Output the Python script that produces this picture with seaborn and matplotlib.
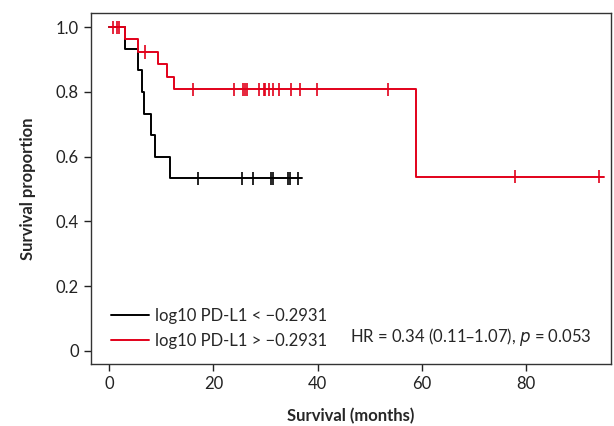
import numpy as np
import pandas as pd
import seaborn as sns
import matplotlib
matplotlib.use('Agg')
import matplotlib.pyplot as plt

sns.set_style('white')
plt.rcParams['font.family'] = ['Lato', 'DejaVu Sans']

# Kaplan-Meier step values
low_label = 'log10 PD-L1 < \u22120.2931'
high_label = 'log10 PD-L1 > \u22120.2931'

low_times = [0, 3.1, 5.5, 6.4, 6.6, 8.0, 8.75, 11.6, 37.1]
low_surv = [1.0, 0.933, 0.867, 0.800, 0.733, 0.667, 0.600, 0.533, 0.533]
low_censor = [17.0, 25.5, 27.6, 31.1, 31.5, 34.3, 34.7, 36.2]

high_times = [0, 3.1, 5.5, 9.4, 11.1, 12.4, 58.9, 95.0]
high_surv = [1.0, 0.962, 0.923, 0.885, 0.846, 0.808, 0.538, 0.538]
high_censor = [0.8, 1.5, 1.9, 6.8, 16.1, 23.9, 25.7, 26.1, 26.5, 28.8, 29.7, 30.0,
               30.7, 31.5, 32.6, 34.9, 36.7, 39.8, 53.5, 77.8, 94.1]

x_ticks = [0, 20, 40, 60, 80]
y_ticks = [0, 0.2, 0.4, 0.6, 0.8, 1.0]
y_tick_labels = ['0', '0.2', '0.4', '0.6', '0.8', '1.0']
hr_text = 'HR = 0.34 (0.11\u20131.07), $\\it{p}$ = 0.053'

colors = {low_label: 'black', high_label: '#e2001a'}


def censor_y(times, surv, censor):
    idx = np.searchsorted(times, censor, side='right') - 1
    return np.array(surv)[idx]


steps = pd.concat([
    pd.DataFrame({'time': low_times, 'surv': low_surv, 'group': low_label}),
    pd.DataFrame({'time': high_times, 'surv': high_surv, 'group': high_label}),
])
marks = pd.concat([
    pd.DataFrame({'time': low_censor, 'surv': censor_y(low_times, low_surv, low_censor),
                  'group': low_label}),
    pd.DataFrame({'time': high_censor, 'surv': censor_y(high_times, high_surv, high_censor),
                  'group': high_label}),
])

fig = plt.figure(figsize=(6.14, 4.26), dpi=100)
ax = fig.add_axes([0.148, 0.146, 0.847, 0.823])

sns.lineplot(data=steps, x='time', y='surv', hue='group', palette=colors,
             estimator=None, sort=False, drawstyle='steps-post', linewidth=1.4, ax=ax)
sns.scatterplot(data=marks, x='time', y='surv', hue='group', palette=colors,
                marker='|', s=90, linewidth=1.2, legend=False, ax=ax)

ax.set_xlim(-3.5, 96.3)
ax.set_ylim(-0.04, 1.043)
ax.set_xticks(x_ticks)
ax.set_yticks(y_ticks)
ax.set_yticklabels(y_tick_labels)
ax.tick_params(axis='both', direction='out', length=5, width=1, labelsize=12, colors='#222222',
               bottom=True, left=True)
for s in ax.spines.values():
    s.set_color('#333333')
    s.set_linewidth(1)

ax.set_xlabel('Survival (months)', fontsize=12, fontweight='bold', labelpad=12)
ax.set_ylabel('Survival proportion', fontsize=12, fontweight='bold', labelpad=14)

ax.legend(loc='lower left', frameon=False, fontsize=12, handlelength=2.3,
          handletextpad=0.35, labelspacing=0.55, bbox_to_anchor=(0.01, 0.0))
ax.text(0.498, 0.077, hr_text, transform=ax.transAxes, fontsize=12, va='center')

fig.savefig('out.png', dpi=100)
